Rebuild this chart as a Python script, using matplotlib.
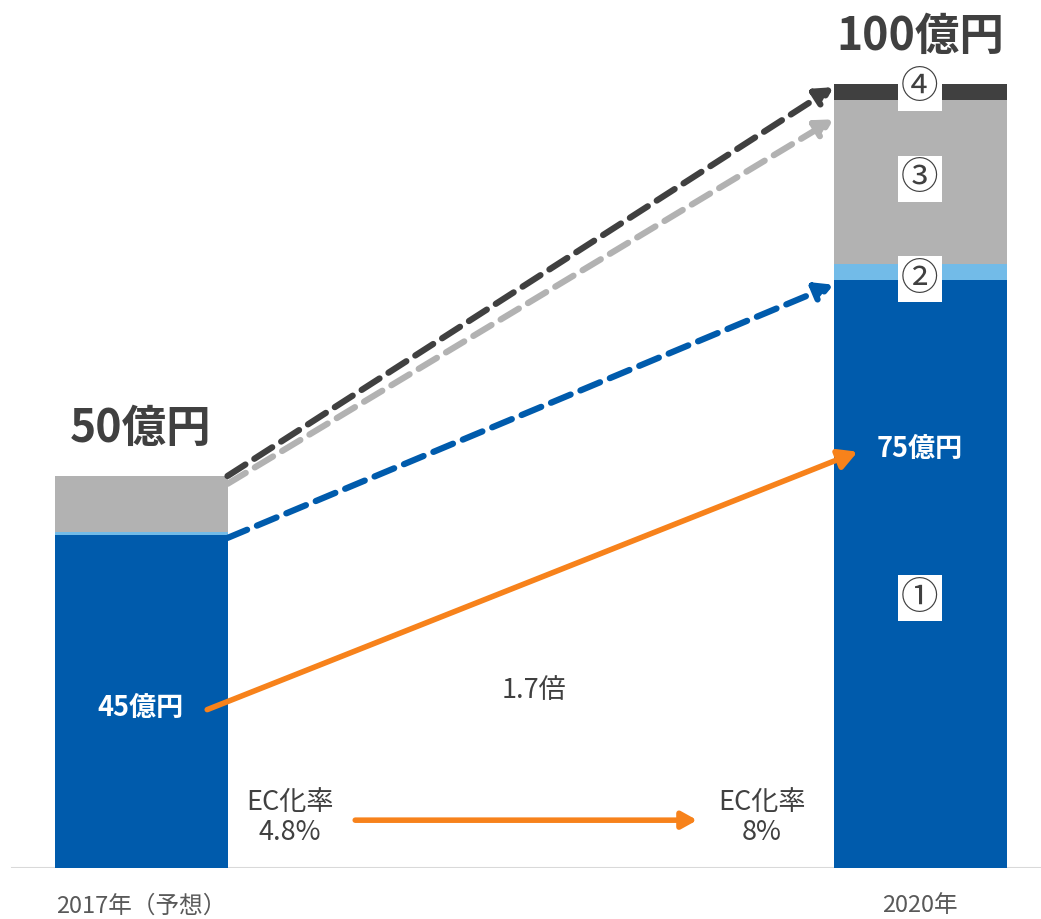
import matplotlib.pyplot as plt
import numpy as np

plt.rcParams['font.family'] = ['Noto Sans CJK JP', 'DejaVu Sans']

# データ（億円）
years = ["2017年（予想）", "2020年"]
seg_main = [42.5, 75.0]     # ①
seg_light = [0.3, 2.0]      # ②
seg_gray = [7.2, 21.0]      # ③
seg_dark = [0.0, 2.0]       # ④
totals = ["50億円", "100億円"]
main_labels = ["45億円", "75億円"]
ec_labels = ["EC化率\n4.8%", "EC化率\n8%"]
growth = "1.7倍"
circled = ["①", "②", "③", "④"]

c_blue = "#005BAC"
c_light = "#72BBE8"
c_gray = "#B2B2B2"
c_dark = "#404040"
c_orange = "#F7821B"
c_text = "#404040"

fig = plt.figure(figsize=(10.41, 9.19), dpi=100)
ax = fig.add_axes([0, 51 / 919, 1, 868 / 919])

x = np.array([0.0, 1.0])
w = 173 / 779
main = np.array(seg_main)
light = np.array(seg_light)
gray = np.array(seg_gray)
dark = np.array(seg_dark)

ax.bar(x, main, width=w, color=c_blue, zorder=2)
ax.bar(x, light, width=w, bottom=main, color=c_light, zorder=2)
ax.bar(x, gray, width=w, bottom=main + light, color=c_gray, zorder=2)
ax.bar(x, dark, width=w, bottom=main + light + gray, color=c_dark, zorder=2)

top = main + light + gray + dark

ax.set_xlim(-141 / 779, 900 / 779)
ax.set_ylim(0, 868 / 7.84)
for s in ax.spines.values():
    s.set_visible(False)
ax.set_yticks([])
ax.axhline(0, xmin=12 / 1041, color="#D9D9D9", lw=1.5, zorder=1)
ax.set_xticks(x, years)
ax.tick_params(axis="x", length=0, pad=19, labelsize=17, labelcolor="#595959")

# 合計ラベル
for xi, t, lab in zip(x, top, totals):
    ax.text(xi, t + 6.0, lab, ha="center", va="center", fontsize=32,
            fontweight="bold", color=c_text)

# ①のラベル
ax.text(x[0], 20.4, main_labels[0], ha="center", va="center", fontsize=19.5,
        fontweight="bold", color="white", zorder=4)
ax.text(x[1], 53.4, main_labels[1], ha="center", va="center", fontsize=19.5,
        fontweight="bold", color="white", zorder=4)

# 丸数字
box = dict(facecolor="white", edgecolor="none", pad=2.5)
r = x[1]
ax.text(r, 34.4, circled[0], ha="center", va="center", fontsize=27,
        color=c_text, bbox=box, zorder=4)
ax.text(r, main[1] + light[1] / 2 - 0.9, circled[1], ha="center", va="center",
        fontsize=27, color=c_text, bbox=box, zorder=4)
ax.text(r, main[1] + light[1] + gray[1] / 2 + 0.4, circled[2], ha="center",
        va="center", fontsize=27, color=c_text, bbox=box, zorder=4)
ax.text(r, top[1] - 0.5, circled[3], ha="center", va="center", fontsize=27,
        color=c_text, bbox=box, zorder=4)

# 点線の矢印
xl = x[0] + w / 2
xr = x[1] - w / 2
dash_arrows = [
    (top[0], top[1] - 0.4, c_dark),
    (top[0] - 1.0, top[1] - 4.5, c_gray),
    (main[0] - 0.4, main[1] - 0.6, c_blue),
]
for y0, y1, c in dash_arrows:
    ax.annotate("", xy=(xr, y1), xytext=(xl, y0),
                arrowprops=dict(arrowstyle="-|>,head_length=1.0,head_width=0.55",
                                color=c, lw=4.5, linestyle=(0, (3.4, 1.7)),
                                shrinkA=0, shrinkB=0),
                zorder=3)

# オレンジの矢印
ax.annotate("", xy=(0.920, 53.1), xytext=(0.085, 20.2),
            arrowprops=dict(arrowstyle="-|>,head_length=1.1,head_width=0.6",
                            color=c_orange, lw=4, shrinkA=0, shrinkB=0),
            zorder=3)
ax.text(0.504, 22.7, growth, ha="center", va="center", fontsize=19.5, color=c_text)

# EC化率
ax.text(0.191, 6.4, ec_labels[0], ha="center", va="center", fontsize=19.5,
        color=c_text, linespacing=1.15)
ax.text(0.797, 6.4, ec_labels[1], ha="center", va="center", fontsize=19.5,
        color=c_text, linespacing=1.15)
ax.annotate("", xy=(0.714, 6.1), xytext=(0.275, 6.1),
            arrowprops=dict(arrowstyle="-|>,head_length=0.9,head_width=0.5",
                            color=c_orange, lw=4, shrinkA=0, shrinkB=0),
            zorder=3)

fig.savefig("out.png", dpi=100)
